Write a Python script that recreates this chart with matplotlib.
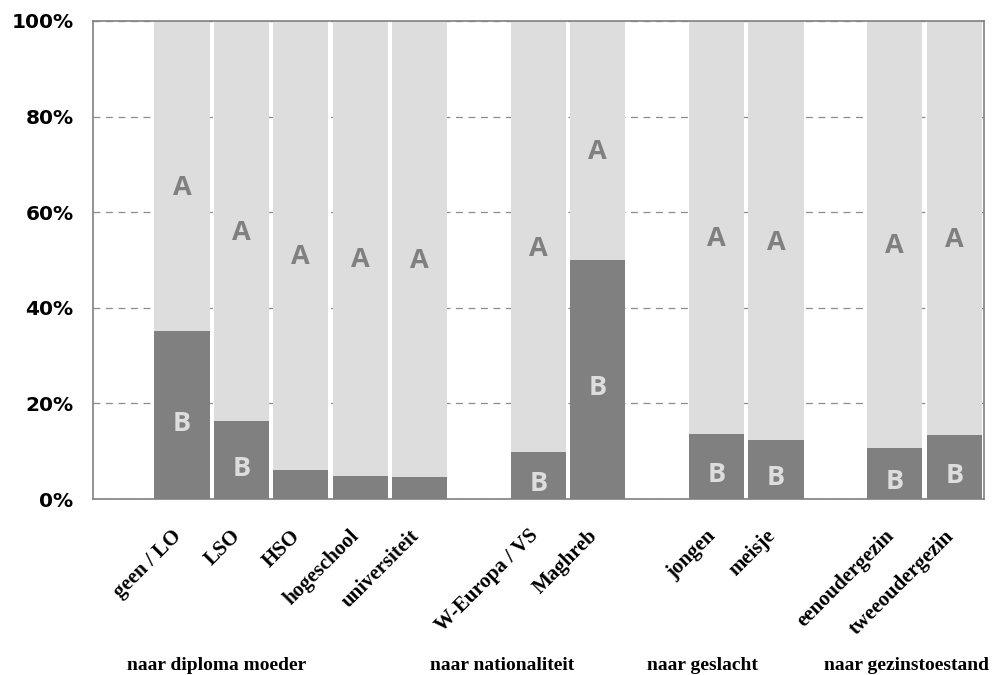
import matplotlib
matplotlib.use("Agg")
import matplotlib.pyplot as plt
import numpy as np

# groups of categories, one empty slot before each group
groups = ["naar diploma moeder", "naar nationaliteit", "naar geslacht", "naar gezinstoestand"]
categories = [
    ["geen / LO", "LSO", "HSO", "hogeschool", "universiteit"],
    ["W-Europa / VS", "Maghreb"],
    ["jongen", "meisje"],
    ["eenoudergezin", "tweeoudergezin"],
]
# share B (%) per category, rest is A
share_b = [
    [35.1, 16.3, 6.1, 4.8, 4.6],
    [9.8, 50.1],
    [13.7, 12.3],
    [10.7, 13.4],
]

COLOR_A = "#dddddd"
COLOR_B = "#808080"

labels, b_vals, xpos = [], [], []
slot = 0
for cats, vals in zip(categories, share_b):
    slot += 1  # empty slot
    for c, v in zip(cats, vals):
        labels.append(c)
        b_vals.append(v)
        xpos.append(slot)
        slot += 1
n_slots = slot

b_vals = np.array(b_vals)
a_vals = 100 - b_vals
xpos = np.array(xpos)

fig = plt.figure(figsize=(10.03, 6.75), dpi=100)
ax = fig.add_axes([0.0927, 0.2607, 0.8883, 0.7082])

ax.bar(xpos, b_vals, width=0.93, color=COLOR_B, zorder=2)
ax.bar(xpos, a_vals, width=0.93, bottom=b_vals, color=COLOR_A, zorder=2)

for x, b in zip(xpos, b_vals):
    ax.text(x, (b + 100) / 2 - 2.5, "A", ha="center", va="center",
            color=COLOR_B, fontsize=19.5, fontweight="bold", family="Open Sans", zorder=3)
    if b >= 8:
        ax.text(x, b / 2 - 1.8, "B", ha="center", va="center",
                color=COLOR_A, fontsize=19.5, fontweight="bold", family="Open Sans", zorder=3)

ax.set_xlim(-0.5, n_slots - 0.5)
ax.set_ylim(0, 100)
ax.set_yticks(np.arange(0, 101, 20))
ax.set_yticklabels(["%d%%" % v for v in range(0, 101, 20)], fontsize=14.5, fontweight="bold")
ax.yaxis.grid(True, linestyle=(0, (5.5, 4.5)), color="#8c8c8c", linewidth=0.9, zorder=0)
ax.set_axisbelow(True)
ax.tick_params(axis="y", length=0, pad=14)

ax.set_xticks(xpos)
ax.set_xticklabels(labels, rotation=45, ha="right", va="baseline", rotation_mode="anchor",
                   fontsize=15, fontweight="bold", family="Liberation Serif")
ax.tick_params(axis="x", length=0, pad=27)

for s in ax.spines.values():
    s.set_color("#808080")
    s.set_linewidth(1.2)

group_x = [217, 502, 702, 907]
for g, gx in zip(groups, group_x):
    fig.text(gx / 1003, 1 - 665 / 675, g, ha="center", va="center",
             fontsize=14, fontweight="bold", family="Liberation Serif")

fig.savefig("out.png", dpi=100)
